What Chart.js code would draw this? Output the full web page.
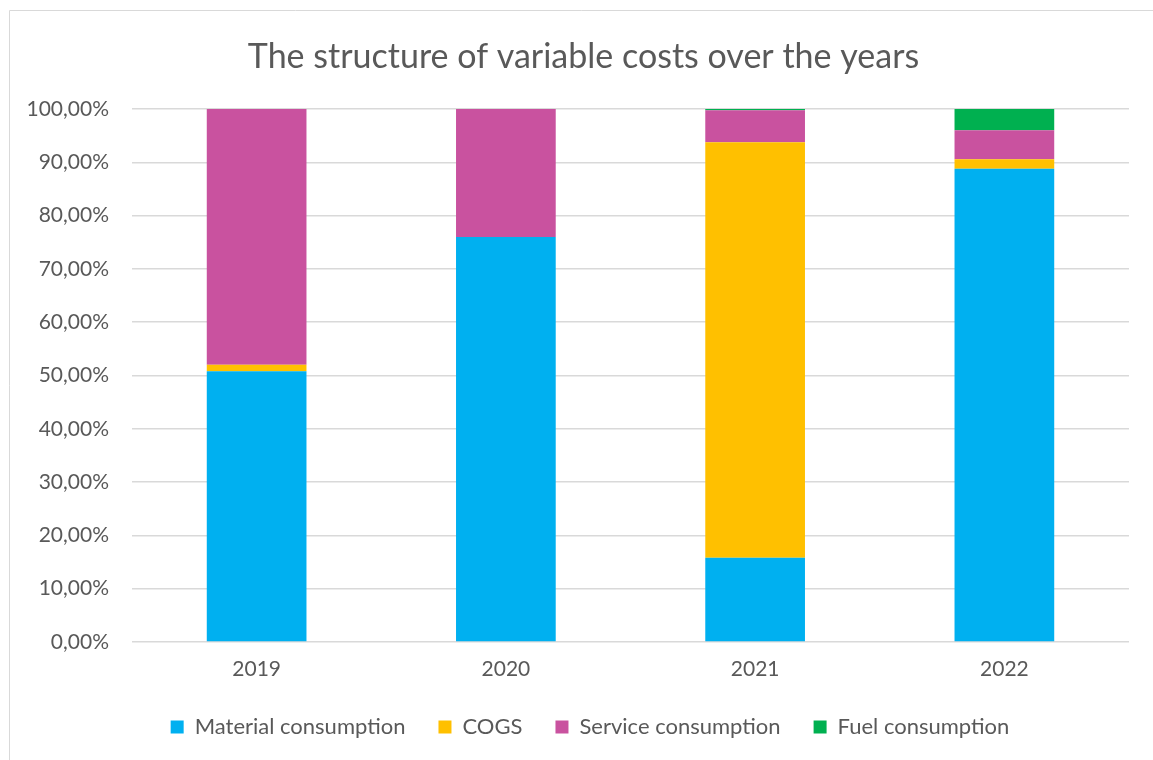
<!DOCTYPE html>
<html>
<head>
<meta charset="utf-8">
<title>Variable costs structure</title>
<script src="https://cdn.jsdelivr.net/npm/chart.js@4.4.1/dist/chart.umd.min.js"></script>
<style>
   html, body { margin: 0; padding: 0; background: #ffffff; }
   #wrap { position: relative; width: 1153px; height: 760px; }
</style>
</head>
<body>
<div id="wrap"><canvas id="costs"></canvas></div>
<script>
const years = ["2019", "2020", "2021", "2022"];
const materialShare = [50.8, 76.0, 15.8, 88.8];
const cogsShare = [1.2, 0, 77.95, 1.76];
const serviceShare = [48.0, 24.0, 6.0, 5.44];
const fuelShare = [0, 0, 0.25, 4.0];

const textColor = "#595959";
const fontFamily = "Lato, 'Open Sans', sans-serif";

// thin frame on the left and top edge, plus a small shift of title and legend
const frame = {
   id: "frame",
   beforeDraw(chart) {
      chart.titleBlock.left = 38;
      chart.legend.left = 51;
      chart.legend.top = 683;

      const ctx = chart.ctx;
      ctx.save();
      ctx.strokeStyle = "#d9d9d9";
      ctx.lineWidth = 1;
      ctx.beginPath();
      ctx.moveTo(9.5, chart.height);
      ctx.lineTo(9.5, 10.5);
      ctx.lineTo(chart.width, 10.5);
      ctx.stroke();
      ctx.restore();
   },
};

new Chart(document.getElementById("costs"), {
   type: "bar",
   data: {
      labels: years,
      datasets: [
         { label: "Material consumption", data: materialShare, backgroundColor: "#00B0F0" },
         { label: "COGS", data: cogsShare, backgroundColor: "#FFC000" },
         { label: "Service consumption", data: serviceShare, backgroundColor: "#C9529F" },
         { label: "Fuel consumption", data: fuelShare, backgroundColor: "#00B050" },
      ],
   },
   options: {
      responsive: true,
      maintainAspectRatio: false,
      animation: false,
      layout: {
         padding: { left: 0, right: 24, top: 0, bottom: 15 },
      },
      datasets: {
         bar: { barPercentage: 0.4, categoryPercentage: 1.0, borderWidth: 0 },
      },
      scales: {
         x: {
            stacked: true,
            grid: { display: false, drawTicks: false },
            border: { display: false },
            ticks: {
               color: textColor,
               padding: 17,
               font: { family: fontFamily, size: 21, lineHeight: 1 },
            },
            afterFit(scale) {
               scale.height = 38;
            },
         },
         y: {
            stacked: true,
            min: 0,
            max: 100,
            grid: { color: "#d9d9d9", lineWidth: 1.5, drawTicks: false },
            border: { display: false },
            ticks: {
               stepSize: 10,
               color: textColor,
               padding: 23,
               font: { family: fontFamily, size: 21 },
               callback: (v) => v.toFixed(2).replace(".", ",") + "%",
            },
            afterFit(scale) {
               scale.width = 132;
            },
         },
      },
      plugins: {
         title: {
            display: true,
            text: "The structure of variable costs over the years",
            color: textColor,
            font: { family: fontFamily, size: 34, weight: "normal", lineHeight: 1.2 },
            padding: { top: 36.6, bottom: 31.6 },
         },
         legend: {
            position: "bottom",
            labels: {
               color: textColor,
               boxWidth: 13,
               boxHeight: 13,
               padding: 33,
               font: { family: fontFamily, size: 22 },
            },
         },
         tooltip: { enabled: false },
      },
   },
   plugins: [frame],
});
</script>
</body>
</html>
